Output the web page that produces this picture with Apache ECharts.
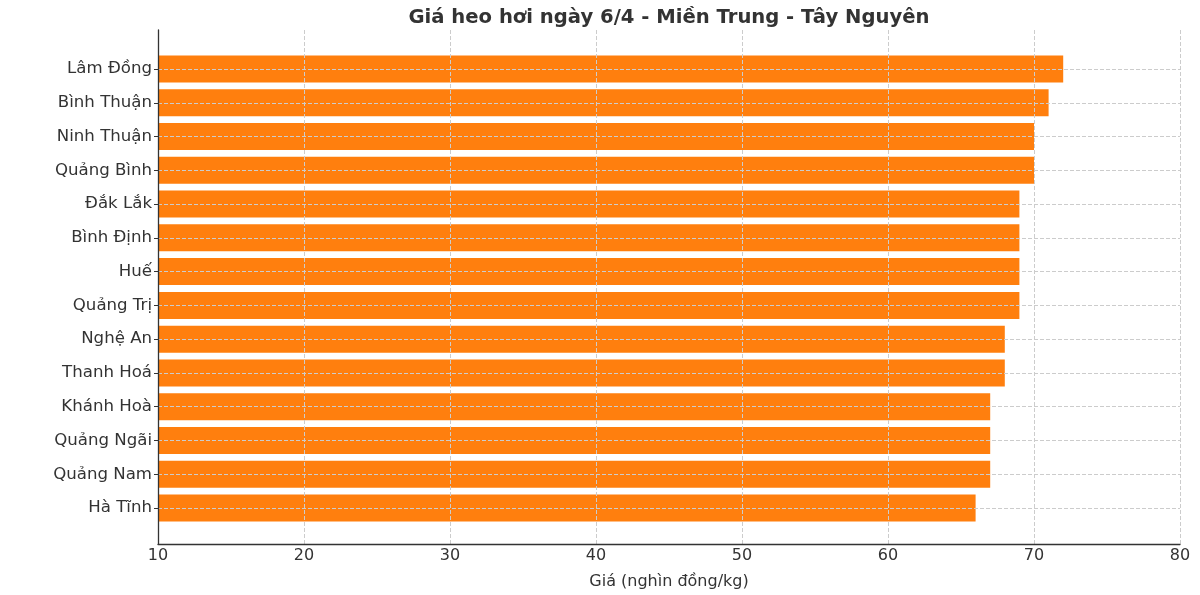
<!DOCTYPE html>
<html>
<head>
<meta charset="utf-8">
<script src="https://cdn.jsdelivr.net/npm/echarts@6/dist/echarts.min.js"></script>
<style>
html,body{margin:0;padding:0;background:#fff;}
#chart{width:1200px;height:595px;}
</style>
</head>
<body>
<div id="chart"></div>
<script>
const categories = ["Lâm Đồng","Bình Thuận","Ninh Thuận","Quảng Bình","Đắk Lắk","Bình Định","Huế","Quảng Trị","Nghệ An","Thanh Hoá","Khánh Hoà","Quảng Ngãi","Quảng Nam","Hà Tĩnh"];
const prices = [72,71,70,70,69,69,69,69,68,68,67,67,67,66];
const xTicks = [10,20,30,40,50,60,70,80];

const FONT = "DejaVu Sans";
const XMIN = xTicks[0], XMAX = xTicks[xTicks.length-1];
const gridLine = {show:true,lineStyle:{color:'#cccccc',type:[4,2],width:1}};
const chart = echarts.init(document.getElementById('chart'), null, {renderer:'canvas'});
chart.setOption({
  backgroundColor:'#ffffff',
  animation:false,
  title:{
    text:'Giá heo hơi ngày 6/4 - Miền Trung - Tây Nguyên',
    left:664, top:3, textAlign:'center',
    textStyle:{fontFamily:FONT,fontSize:19.6,fontWeight:'bold',color:'#333333'}
  },
  grid:[
    {left:158,right:20,top:52,bottom:70},   // bars
    {left:158,right:20,top:30,bottom:50},   // frame + x axis
    {left:158,right:20,top:69,bottom:87}    // category labels + horizontal grid
  ],
  xAxis:[
    {gridIndex:0,type:'value',min:XMIN,max:XMAX,interval:10,show:false},
    {gridIndex:1,type:'value',min:XMIN,max:XMAX,interval:10,z:5,
     name:'Giá (nghìn đồng/kg)',nameLocation:'middle',nameGap:30,
     nameTextStyle:{fontFamily:FONT,fontSize:16,color:'#333333'},
     axisLine:{show:true,lineStyle:{color:'#333333',width:1.3}},
     axisTick:{show:false},
     axisLabel:{fontFamily:FONT,fontSize:16,color:'#333333',margin:4},
     splitLine:{show:true,showMinLine:false,lineStyle:{color:'#cccccc',type:[4,2],width:1}}},
    {gridIndex:2,type:'value',min:XMIN,max:XMAX,interval:10,show:false}
  ],
  yAxis:[
    {gridIndex:0,type:'category',data:categories,inverse:true,show:false},
    {gridIndex:1,type:'value',min:0,max:1,z:6,
     axisLine:{show:true,lineStyle:{color:'#333333',width:1.3}},
     axisTick:{show:false},axisLabel:{show:false},splitLine:{show:false}},
    {gridIndex:2,type:'category',data:categories,inverse:true,boundaryGap:false,z:5,
     axisLine:{show:false},
     axisTick:{show:true,length:4,lineStyle:{color:'#333333'}},
     axisLabel:{fontFamily:FONT,fontSize:16.6,color:'#333333',margin:6},
     splitLine:gridLine}
  ],
  series:[{
    type:'bar',xAxisIndex:0,yAxisIndex:0,data:prices,barWidth:27,
    itemStyle:{color:'#ff7f0e'}
  }]
});
</script>
</body>
</html>
